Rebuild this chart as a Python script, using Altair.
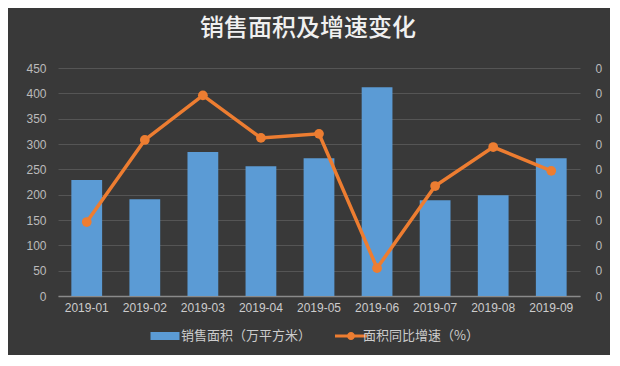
import altair as alt
import pandas as pd

months = ["2019-01", "2019-02", "2019-03", "2019-04", "2019-05",
          "2019-06", "2019-07", "2019-08", "2019-09"]
area = [229, 191, 284, 256, 272, 412, 189, 199, 272]
growth = [0.146, 0.308, 0.396, 0.312, 0.320, 0.055, 0.217, 0.294, 0.247]
bar_name = "销售面积（万平方米）"
line_name = "面积同比增速（%）"
left_ticks = [0, 50, 100, 150, 200, 250, 300, 350, 400, 450]
right_ticks = [0, 0.05, 0.1, 0.15, 0.2, 0.25, 0.3, 0.35, 0.4, 0.45]

df = pd.DataFrame({"month": months, "area": area, "growth": growth,
                   "s1": bar_name, "s2": line_name})

FONT = "Liberation Sans, Noto Sans CJK SC, sans-serif"
CJK = "Noto Sans CJK SC, sans-serif"

x = alt.X("month:N", title=None, sort=months,
          scale=alt.Scale(paddingInner=0.47, paddingOuter=0.23),
          axis=alt.Axis(labelAngle=0, labelColor="#cccccc", labelFontSize=12,
                        labelFont=FONT, ticks=False, domainColor="#8a8a8a",
                        domainWidth=1.5, labelPadding=6, grid=False))

bars = alt.Chart(df).mark_bar(color="#5b9bd5").encode(
    x=x,
    y=alt.Y("area:Q", title=None, scale=alt.Scale(domain=[0, 450]),
            axis=alt.Axis(values=left_ticks, labelColor="#bbbbbb", labelFontSize=12,
                          labelFont=FONT, ticks=False, domain=False,
                          gridColor="#555555", gridWidth=1, labelPadding=12)),
    color=alt.Color("s1:N", scale=alt.Scale(domain=[bar_name], range=["#5b9bd5"]),
                    legend=alt.Legend(title=None, orient="none", legendX=97, legendY=258,
                                      symbolType="M-1.45,-0.4H1.45V0.4H-1.45Z",
                                      symbolSize=400, labelColor="#cccccc",
                                      labelFont=CJK, labelFontSize=13, labelOffset=6,
                                      symbolStrokeWidth=0)),
)

line_base = alt.Chart(df).encode(
    x=x,
    y=alt.Y("growth:Q", title=None, scale=alt.Scale(domain=[0, 0.45]),
            axis=alt.Axis(orient="right", values=right_ticks, format=".0f",
                          labelColor="#bbbbbb", labelFontSize=12, labelFont=FONT,
                          ticks=False, domain=False, grid=False, labelPadding=15)),
    color=alt.Color("s2:N", scale=alt.Scale(domain=[line_name], range=["#ed7d31"]),
                    legend=alt.Legend(title=None, orient="none", legendX=283, legendY=258,
                                      symbolType="M-1.6,-0.15H1.6V0.15H-1.6Z M-0.4,0A0.4,0.4 0 1,1 0.4,0A0.4,0.4 0 1,1 -0.4,0Z",
                                      symbolSize=400, labelColor="#cccccc",
                                      labelFont=CJK, labelFontSize=13, labelOffset=2,
                                      symbolStrokeWidth=0)),
)
line = line_base.mark_line(strokeWidth=3.5)
pts = line_base.mark_point(filled=True, size=95, opacity=1)

chart = alt.layer(bars, line + pts).resolve_scale(y="independent", color="independent").properties(
    width=522, height=228,
    autosize=alt.AutoSizeParams(type="none"),
    padding={"left": 50, "top": 60, "right": 30, "bottom": 59},
    background="#393939",
    title=alt.TitleParams("销售面积及增速变化", font=CJK, fontSize=24, fontWeight=500,
                          color="#f0f0f0", anchor="middle", dx=-11, offset=21),
).configure_view(stroke=None)

chart.save("out.html", embed_options={"renderer": "svg", "actions": False})
